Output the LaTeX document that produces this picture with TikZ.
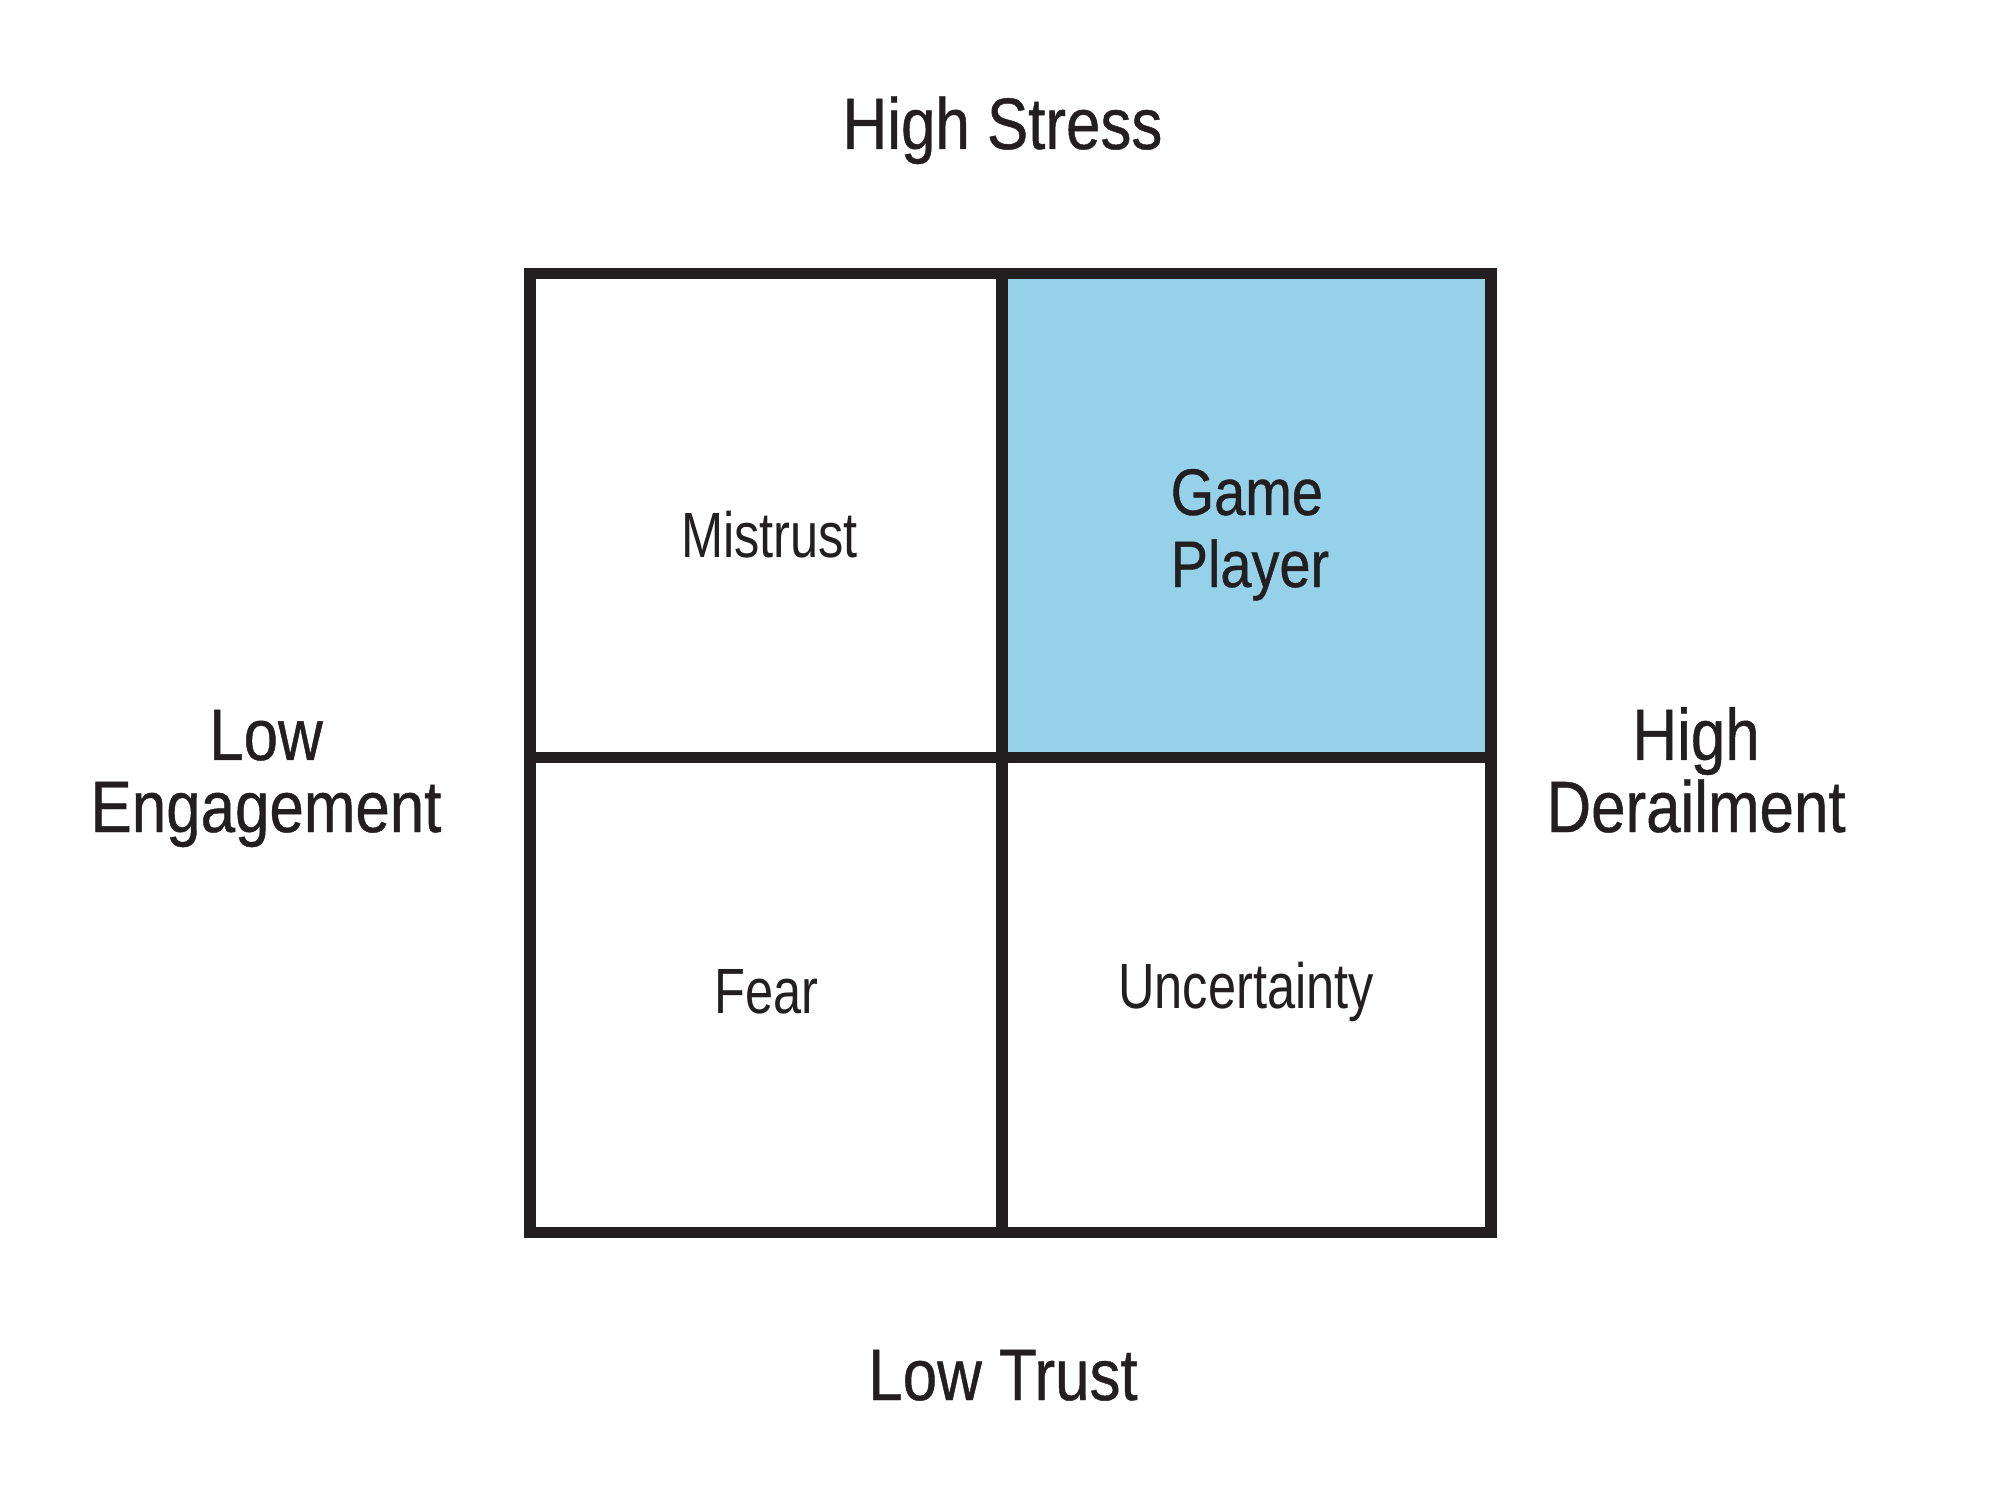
\documentclass[tikz,border=0pt]{standalone}
\usepackage{fontspec}
\setmainfont{Liberation Sans}
\newfontfamily\axisfont[FakeStretch=0.85, FakeBold=0.6]{Liberation Sans}
\newfontfamily\cellfont[FakeStretch=0.79]{Liberation Sans}
\usetikzlibrary{positioning}
\definecolor{GridDark}{RGB}{35, 31, 32}
\definecolor{PlayerBlue}{RGB}{149, 210, 234}

\begin{document}
\begin{tikzpicture}[x=0.01cm, y=-0.01cm,
    axislabel/.style={GridDark, inner sep=0pt, align=center, font=\axisfont\fontsize{20.7}{20.5}\selectfont},
    celllabel/.style={GridDark, inner sep=0pt, font=\cellfont\fontsize{18.2}{20.5}\selectfont}]
    \useasboundingbox (0,0) rectangle (2004,1500);

    % Highlighted quadrant
    \fill[PlayerBlue] (1002,273.5) rectangle (1491,757.5);

    % Grid
    \draw[GridDark, line width=3.3pt] (530,273.5) rectangle (1491,1232.5);
    \draw[GridDark, line width=3.3pt] (1002,273.5) -- (1002,1232.5);
    \draw[GridDark, line width=3.3pt] (530,757.5) -- (1491,757.5);

    % Axis labels
    \node[axislabel, anchor=base] (stress) at (1002.5,149) {High Stress};
    \node[axislabel, anchor=base] (trust) at (1003,1400) {Low Trust};
    \node[axislabel, anchor=base] (engage) at (266,832) {Low\\Engagement};
    \node[axislabel, anchor=base] (derail) at (1696,832) {High\\Derailment};

    % Quadrant labels
    \node[celllabel, anchor=base] (mistrust) at (769.5,557) {Mistrust};
    \node[celllabel, anchor=base] (fear) at (766.5,1013) {Fear};
    \node[celllabel, anchor=base] (uncert) at (1246,1008) {Uncertainty};
    \node[celllabel, anchor=base west, align=left, font=\axisfont\fontsize{18.7}{20.5}\selectfont] (player) at (1170,587) {Game\\Player};
\end{tikzpicture}
\end{document}
